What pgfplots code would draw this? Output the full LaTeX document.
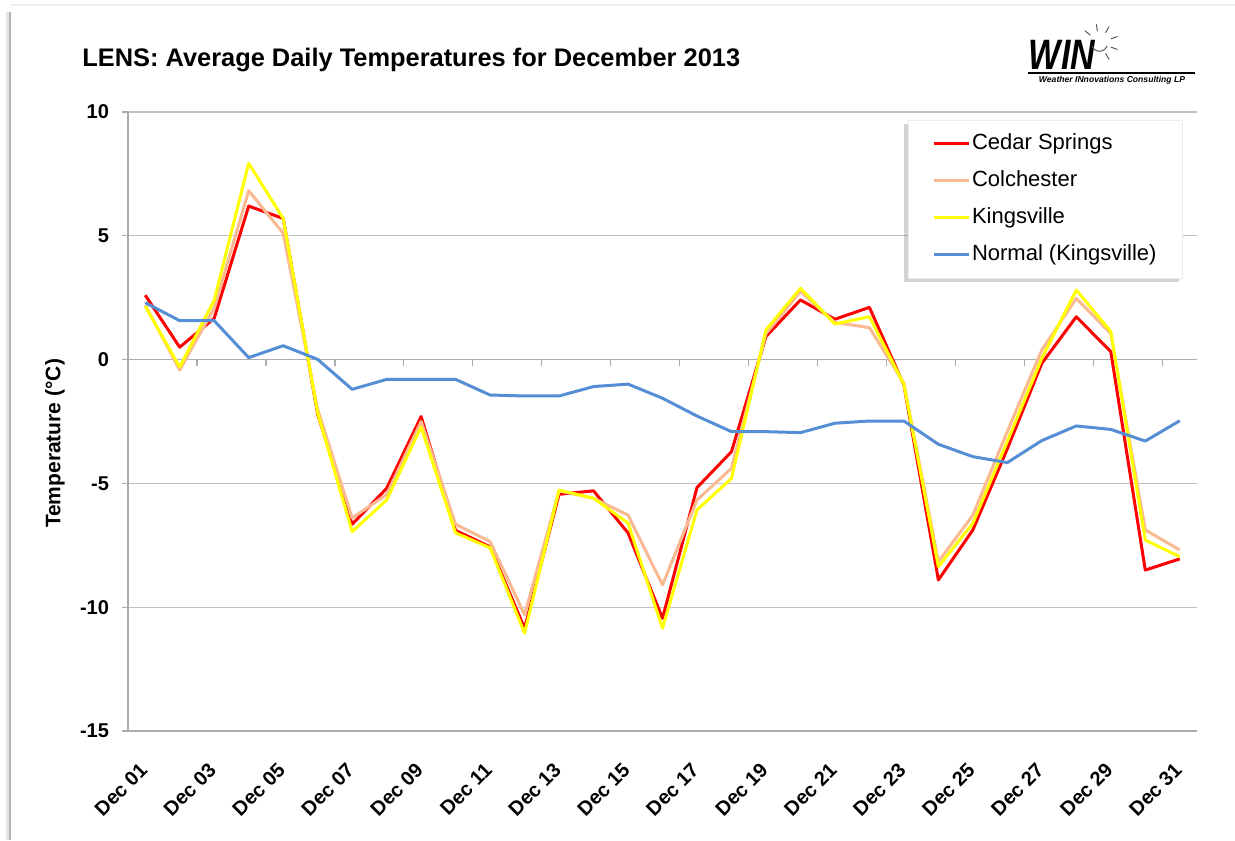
\documentclass[border=0pt]{standalone}
\usepackage{fontspec}
\setmainfont{Liberation Sans}
\usepackage{pgfplots}
\pgfplotsset{compat=1.18}
\usepackage{pgfplotstable}
\usetikzlibrary{shadows,calc}
\definecolor{cedar}{RGB}{255,0,0}
\definecolor{colch}{RGB}{250,185,145}
\definecolor{kings}{RGB}{255,255,0}
\definecolor{normal}{RGB}{85,142,213}
\definecolor{gridgray}{RGB}{192,192,192}

\pgfplotstableread{
day cedar colch kings normal
1   2.60   2.20   2.15   2.30
2   0.50  -0.42  -0.30   1.57
3   1.67   2.08   2.40   1.57
4   6.20   6.82   7.93   0.08
5   5.70   5.10   5.70   0.56
6  -2.20  -2.00  -2.15   0.01
7  -6.65  -6.40  -6.95  -1.20
8  -5.20  -5.45  -5.67  -0.80
9  -2.30  -2.50  -2.72  -0.80
10 -6.90  -6.65  -7.00  -0.80
11 -7.56  -7.35  -7.60  -1.43
12 -10.85 -10.30 -11.05 -1.47
13 -5.44  -5.30  -5.27  -1.47
14 -5.30  -5.60  -5.60  -1.09
15 -7.00  -6.28  -6.60  -0.99
16 -10.45 -9.10  -10.85 -1.56
17 -5.17  -5.67  -6.07  -2.28
18 -3.72  -4.39  -4.80  -2.91
19  0.93   1.05   1.20  -2.91
20  2.41   2.75   2.88  -2.95
21  1.63   1.50   1.44  -2.57
22  2.11   1.29   1.73  -2.48
23 -1.03  -0.95  -1.00  -2.48
24 -8.90  -8.16  -8.36  -3.42
25 -6.88  -6.28  -6.61  -3.92
26 -3.60  -2.90  -3.30  -4.16
27 -0.15   0.39   0.05  -3.27
28  1.73   2.47   2.81  -2.68
29  0.32   1.05   1.13  -2.82
30 -8.50  -6.88  -7.29  -3.29
31 -8.05  -7.69  -7.96  -2.47
}\tempdata

\begin{document}
\begin{tikzpicture}
\path[use as bounding box] (0,0) rectangle (617.5pt,420pt);
% outer chart frame (left edge with shadow, faint top)
\fill[gray!20] (3pt,0) rectangle (4.6pt,414pt);
\draw[gray!60, line width=0.9pt] (5pt,0) -- (5pt,414pt);
\draw[gray!12, line width=1pt] (5pt,417.5pt) -- (617.5pt,417.5pt);
% title
\node[anchor=west, font=\bfseries\fontsize{12.7}{14}\selectfont, inner sep=0pt] at (41pt,390pt) {LENS: Average Daily Temperatures for December 2013};
% logo
\node[anchor=center, inner sep=0pt, font=\bfseries\itshape\fontsize{17}{17}\selectfont] at (531pt,392.5pt) {\scalebox{1}[1.25]{WIN}};
\draw[line width=0.6pt] (514pt,383.5pt) -- (597.5pt,383.5pt);
\node[anchor=center, inner sep=0pt, font=\bfseries\itshape\fontsize{4.3}{5}\selectfont] at (556pt,380pt) {Weather INnovations Consulting LP};
\draw[gray!70!black, line width=0.5pt] (546pt,397pt) arc[start angle=200, end angle=340, radius=4pt];
\foreach \a in {20,60,100,140,-20,-60}
  \draw[gray!70!black, line width=0.5pt] ($(549.8pt,398.5pt)+(\a:6pt)$) -- ($(549.8pt,398.5pt)+(\a:9.5pt)$);
\begin{axis}[
  at={(64pt,54.5pt)}, anchor=south west,
  scale only axis, width=534.5pt, height=309.5pt,
  xmin=0.5, xmax=31.5, ymin=-15, ymax=10,
  ytick={-15,-10,-5,0,5,10},
  xtick={1,3,...,31},
  xticklabels={Dec 01,Dec 03,Dec 05,Dec 07,Dec 09,Dec 11,Dec 13,Dec 15,Dec 17,Dec 19,Dec 21,Dec 23,Dec 25,Dec 27,Dec 29,Dec 31},
  axis x line*=bottom, axis y line*=left,
  axis line style={draw=gray!65, line width=1pt, -},
  ymajorgrids, grid style={draw=gridgray, line width=0.6pt},
  tick align=outside, major tick length=3pt,
  ytick style={draw=gray!65, line width=0.6pt},
  xtick style={draw=none},
  /pgf/number format/assume math mode=true,
  ticklabel style={font=\bfseries\fontsize{10}{12}\selectfont},
  yticklabel style={anchor=east, xshift=-3pt},
  xticklabel style={rotate=45, anchor=east, inner sep=1pt},
  xticklabel shift=14pt,
  ylabel={Temperature (°C)},
  ylabel style={at={(axis description cs:-0.0683,0.4645)}, anchor=center, font=\bfseries\fontsize{10.5}{12}\selectfont},
  legend style={at={(1,1)}, anchor=north east, xshift=-7pt, yshift=-4pt,
    draw=gray!15, fill=white, drop shadow={shadow xshift=-2pt, shadow yshift=-2pt, opacity=0.35},
    font=\fontsize{11}{13}\selectfont, inner xsep=12pt, inner ysep=5.5pt,
    row sep=6pt, cells={anchor=west},
    nodes={inner sep=1pt, text height=8pt, text depth=2.5pt}},
  legend cell align=left,
  legend image code/.code={\begin{scope}[#1]\pgfpathmoveto{\pgfpoint{0pt}{0pt}}\pgfpathlineto{\pgfpoint{17.5pt}{0pt}}\pgfusepath{stroke}\end{scope}},
  every axis plot/.append style={line width=1.5pt, line join=round, mark=none},
]
\foreach \x in {2.5,4.5,...,30.5} {
  \edef\temp{\noexpand\draw[gray!65, line width=0.6pt] (axis cs:\x,0) -- ([yshift=-3pt]axis cs:\x,0);}
  \temp
}
\draw[gray!65, line width=0.8pt] (axis cs:0.5,0) -- (axis cs:31.5,0);
\addplot[cedar] table[x=day, y=cedar] {\tempdata};
\addlegendentry{Cedar Springs}
\addplot[colch] table[x=day, y=colch] {\tempdata};
\addlegendentry{Colchester}
\addplot[kings] table[x=day, y=kings] {\tempdata};
\addlegendentry{Kingsville}
\addplot[normal] table[x=day, y=normal] {\tempdata};
\addlegendentry{Normal (Kingsville)}
\end{axis}
\end{tikzpicture}
\end{document}
